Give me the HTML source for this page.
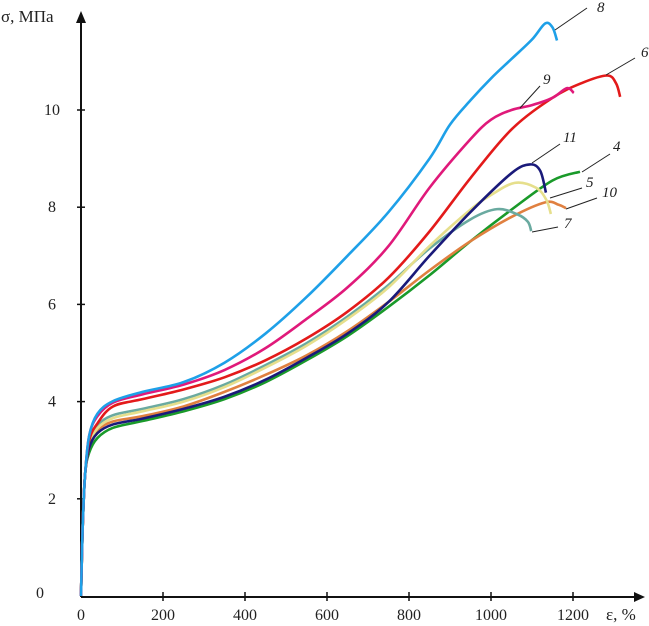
<!DOCTYPE html>
<html><head><meta charset="utf-8"><style>
body{margin:0;background:#fff}
svg{display:block;font-family:"Liberation Serif",serif}
</style></head><body>
<svg id="chart" width="649" height="626">
<g id="axes"></g>
<g id="series"></g>
<g id="labels"></g>
</svg>
<script>
const xTicks=[0,200,400,600,800,1000,1200];
const yTicks=[0,2,4,6,8,10];
const names=["8","9","6","11","5","7","10","4"];
const colors=["#1ea0e8","#e0197a","#e31a1a","#1a1a7a","#e6df8c","#6aaaa0","#e08040","#1a9a2a"];
const start=[[0,0],[4,1.4],[10,2.5]];
const s8=[[20,3.3],[40,3.75],[78,4.01],[150,4.2],[250,4.4],[350,4.8],[450,5.4],[550,6.15],[650,7.0],[750,7.9],[850,9.0],[900,9.7],[950,10.2],[1000,10.65],[1050,11.05],[1100,11.45],[1132,11.78],[1150,11.7],[1161,11.43]];
const s9=[[20,3.3],[40,3.7],[78,3.98],[150,4.15],[250,4.35],[350,4.65],[450,5.1],[550,5.7],[650,6.35],[750,7.2],[850,8.4],[950,9.4],[1000,9.8],[1050,10.0],[1100,10.1],[1150,10.25],[1185,10.45],[1202,10.35]];
const s6=[[20,3.2],[40,3.55],[78,3.9],[150,4.05],[250,4.25],[350,4.5],[450,4.85],[550,5.3],[650,5.85],[750,6.55],[850,7.5],[950,8.6],[1050,9.6],[1150,10.25],[1220,10.55],[1283,10.71],[1305,10.55],[1315,10.27]];
const s11=[[20,3.05],[40,3.35],[78,3.53],[150,3.65],[250,3.85],[350,4.1],[450,4.45],[550,4.9],[650,5.4],[750,6.05],[850,7.0],[950,7.9],[1050,8.7],[1095,8.88],[1120,8.75],[1134,8.3]];
const s5=[[20,3.1],[40,3.45],[78,3.66],[150,3.8],[250,4.0],[350,4.3],[450,4.7],[550,5.15],[650,5.7],[750,6.35],[850,7.2],[950,7.95],[1000,8.25],[1058,8.5],[1110,8.4],[1135,8.15],[1146,7.86]];
const s7=[[20,3.1],[40,3.5],[78,3.72],[150,3.85],[250,4.05],[350,4.35],[450,4.75],[550,5.2],[650,5.75],[750,6.4],[850,7.15],[950,7.75],[1015,7.96],[1065,7.85],[1090,7.7],[1098,7.51]];
const s10=[[20,3.05],[40,3.4],[78,3.59],[150,3.7],[250,3.9],[350,4.2],[450,4.55],[550,4.95],[650,5.45],[750,6.05],[850,6.7],[950,7.3],[1050,7.8],[1132,8.1],[1165,8.05],[1183,7.98]];
const s4=[[20,2.95],[40,3.25],[78,3.46],[150,3.6],[250,3.8],[350,4.05],[450,4.4],[550,4.85],[650,5.35],[750,5.95],[850,6.6],[950,7.3],[1050,7.95],[1150,8.55],[1217,8.73]];
const series=[s8,s9,s6,s11,s5,s7,s10,s4];
const X=v=>81+v*0.41, Y=v=>596-v*48.6;
const NS="http://www.w3.org/2000/svg";
function mk(t,a,p){const e=document.createElementNS(NS,t);for(const k in a)e.setAttribute(k,a[k]);p.appendChild(e);return e;}
const ax=document.getElementById('axes');
const xl=mk('line',{x1:81,y1:597,x2:637,y2:597,stroke:'#111','stroke-width':2},ax);


const yl=mk('line',{x1:81,y1:597,x2:81,y2:20,stroke:'#111','stroke-width':2},ax);


const xa=mk('polygon',{points:'645,597 634,592 634,602',fill:'#111'},ax);


const ya=mk('polygon',{points:'81,11 76,23 86,23',fill:'#111'},ax);


xTicks.forEach(v=>{
 if(v>0){const t=mk('line',{x1:X(v),y1:592,x2:X(v),y2:601,stroke:'#111','stroke-width':1.5},ax);
 
 }
 const l=mk('text',{x:X(v),y:620,'text-anchor':'middle','font-size':16,fill:'#222'},ax);l.textContent=v;
 
 
});
yTicks.forEach(v=>{
 if(v>0){const t=mk('line',{x1:77,y1:Y(v),x2:85,y2:Y(v),stroke:'#111','stroke-width':1.5},ax);
 
 }
 const l=mk('text',{x:v===0?40:52,y:v===0?598:Y(v)+5,'text-anchor':'middle','font-size':16,fill:'#222'},ax);l.textContent=v;
 
 
});
const xt=mk('text',{x:606,y:620,'font-size':17,fill:'#222'},ax);xt.textContent='ε, %';


const yt=mk('text',{x:1,y:22,'font-size':17,fill:'#222'},ax);yt.textContent='σ, МПа';


function path(pts){
 const p=pts.map(d=>[X(d[0]),Y(d[1])]);let s='M'+p[0][0]+','+p[0][1];
 for(let i=0;i<p.length-1;i++){const p0=p[i-1]||p[i],p1=p[i],p2=p[i+1],p3=p[i+2]||p2;
  s+=' C'+(p1[0]+(p2[0]-p0[0])/6)+','+(p1[1]+(p2[1]-p0[1])/6)+' '+(p2[0]-(p3[0]-p1[0])/6)+','+(p2[1]-(p3[1]-p1[1])/6)+' '+p2[0]+','+p2[1];}
 return s;}
const sg=document.getElementById('series');
for(let i=series.length-1;i>=0;i--){
 const e=mk('path',{d:path(start.concat(series[i])),fill:'none',stroke:colors[i],'stroke-width':2.6,'stroke-linejoin':'round'},sg);
 
 
}
const lab=[["8",597,12,555,30,587,8],["6",641,57,606,75,635,58],["9",543,84,520,108,540,86],["11",563,142,532,163,560,144],["4",613,151,582,172,610,154],["5",586,187,550,198,582,188],["10",602,197,566,209,597,198],["7",564,228,532,232,558,227]];
const lg=document.getElementById('labels');
lab.forEach(a=>{
 const l=mk('line',{x1:a[3],y1:a[4],x2:a[5],y2:a[6],stroke:'#222','stroke-width':1},lg);
 
 
 const t=mk('text',{x:a[1],y:a[2],'font-size':15,'font-style':'italic',fill:'#222'},lg);t.textContent=a[0];
 
 
});
</script>
</body></html>
